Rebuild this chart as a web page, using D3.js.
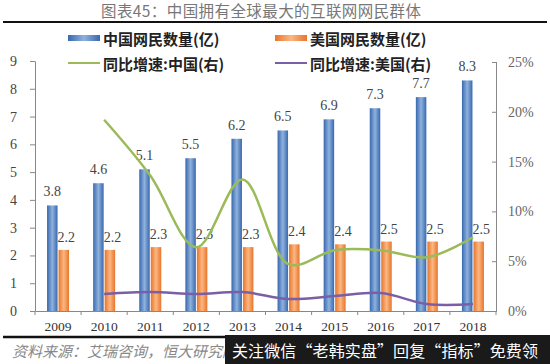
<!DOCTYPE html>
<html>
<head>
<meta charset="utf-8">
<script src="https://cdn.jsdelivr.net/npm/d3@7"></script>
<style>
  body { margin: 0; background: #fff; }
  svg { display: block; }
</style>
</head>
<body>
<div id="chart"></div>
<script>
// data
var years = ["2009","2010","2011","2012","2013","2014","2015","2016","2017","2018"];
var chinaUsers = [3.8, 4.6, 5.1, 5.5, 6.2, 6.5, 6.9, 7.3, 7.7, 8.3];
var usUsers = [2.2, 2.2, 2.3, 2.3, 2.3, 2.4, 2.4, 2.5, 2.5, 2.5];
var chinaGrowth = [null, 19.2, 13.6, 6.4, 13.2, 4.7, 6.1, 6.1, 5.4, 7.4];
var usGrowth = [null, 1.7, 1.9, 1.7, 1.9, 1.2, 1.5, 1.8, 0.7, 0.7];
var leftTicks = [0,1,2,3,4,5,6,7,8,9];
var rightTicks = [0,5,10,15,20,25];

var width = 550, height = 364;
var serif = "'Liberation Serif', 'DejaVu Serif', serif";
var cjk = "'Noto Sans CJK SC', sans-serif";

var svg = d3.select("#chart").append("svg")
  .attr("width", width).attr("height", height);

var defs = svg.append("defs");
function grad(id, edge, mid) {
  var g = defs.append("linearGradient").attr("id", id)
    .attr("x1", "0%").attr("x2", "100%").attr("y1", "0%").attr("y2", "0%");
  g.append("stop").attr("offset", "0%").attr("stop-color", edge);
  g.append("stop").attr("offset", "50%").attr("stop-color", mid);
  g.append("stop").attr("offset", "100%").attr("stop-color", edge);
}
grad("gBlue", "#3868b0", "#8fb2dd");
grad("gOrange", "#e8752a", "#fbb783");

// title
svg.append("text").attr("x", 261).attr("y", 17)
  .attr("text-anchor", "middle")
  .attr("textLength", 320).attr("lengthAdjust", "spacing")
  .style("font-family", cjk).style("font-size", "15.5px").style("fill", "#777")
  .text("图表45：中国拥有全球最大的互联网网民群体");
svg.append("line").attr("x1", 3).attr("x2", 547).attr("y1", 22).attr("y2", 22)
  .attr("stroke", "#111").attr("stroke-width", 2.2);

// scales
var x = d3.scaleBand().domain(years).range([35, 496]);
var yL = d3.scaleLinear().domain([0, 9]).range([311, 61]);
var yR = d3.scaleLinear().domain([0, 25]).range([311, 62]);

// axes
var xAxis = svg.append("g").attr("transform", "translate(0,311)")
  .call(d3.axisBottom(x).tickSize(0).tickPadding(10));
xAxis.selectAll("text").style("font-family", serif).style("font-size", "13.5px").style("fill", "#333");
xAxis.select(".domain").attr("stroke", "#888");
// category boundary ticks
svg.append("g").selectAll("line")
  .data(years.concat(["end"]))
  .enter().append("line")
  .attr("x1", (d, i) => x.range()[0] + i * x.step())
  .attr("x2", (d, i) => x.range()[0] + i * x.step())
  .attr("y1", 311).attr("y2", 315)
  .attr("stroke", "#888");

var left = svg.append("g").attr("transform", "translate(35,0)")
  .call(d3.axisLeft(yL).tickValues(leftTicks).tickSize(5).tickSizeOuter(0).tickPadding(13));
left.selectAll("text").style("font-family", serif).style("font-size", "14px").style("fill", "#444");
left.selectAll("line, .domain").attr("stroke", "#888");

var right = svg.append("g").attr("transform", "translate(496,0)")
  .call(d3.axisRight(yR).tickValues(rightTicks).tickFormat(d => d + "%").tickSize(0).tickPadding(12));
right.selectAll("text").style("font-family", serif).style("font-size", "14px").style("fill", "#666");
right.select(".domain").attr("stroke", "#888");
right.selectAll(".tick").append("line").attr("x1", -4).attr("x2", 1).attr("stroke", "#888");

// bars
var bw = 10.5;
var groups = svg.append("g").selectAll("g")
  .data(years).enter().append("g")
  .attr("transform", d => `translate(${x(d) + x.bandwidth() / 2},0)`);

groups.append("rect")
  .attr("x", -bw - 0.5).attr("width", bw)
  .attr("y", (d, i) => yL(chinaUsers[i]))
  .attr("height", (d, i) => yL(0) - yL(chinaUsers[i]))
  .attr("fill", "url(#gBlue)");
groups.append("rect")
  .attr("x", 0.5).attr("width", bw)
  .attr("y", (d, i) => yL(usUsers[i]))
  .attr("height", (d, i) => yL(0) - yL(usUsers[i]))
  .attr("fill", "url(#gOrange)");

groups.append("text")
  .attr("x", -bw / 2 - 0.5)
  .attr("y", (d, i) => yL(chinaUsers[i]) - 9)
  .attr("text-anchor", "middle")
  .style("font-family", serif).style("font-size", "14px").style("fill", "#444")
  .text((d, i) => chinaUsers[i].toFixed(1));
groups.append("text")
  .attr("x", bw / 2 + 3)
  .attr("y", (d, i) => yL(usUsers[i]) - 8)
  .attr("text-anchor", "middle")
  .style("font-family", serif).style("font-size", "14px").style("fill", "#444")
  .text((d, i) => usUsers[i].toFixed(1));

// growth lines
var line = d3.line()
  .defined(d => d.v != null)
  .x(d => x(d.year) + x.bandwidth() / 2)
  .y(d => yR(d.v))
  .curve(d3.curveCatmullRom.alpha(0.5));

svg.append("path")
  .datum(years.map((y, i) => ({year: y, v: chinaGrowth[i]})))
  .attr("d", line).attr("fill", "none")
  .attr("stroke", "#9bbb59").attr("stroke-width", 2.5);
svg.append("path")
  .datum(years.map((y, i) => ({year: y, v: usGrowth[i]})))
  .attr("d", line).attr("fill", "none")
  .attr("stroke", "#7b5fa6").attr("stroke-width", 2.5);

// legend
var legFont = 15;
function legText(xx, yy, t) {
  svg.append("text").attr("x", xx).attr("y", yy)
    .style("font-family", cjk).style("font-weight", "bold")
    .style("font-size", legFont + "px").style("fill", "#222")
    .attr("dominant-baseline", "central")
    .text(t);
}
svg.append("rect").attr("x", 68).attr("y", 35).attr("width", 32).attr("height", 6).attr("fill", "url(#gBlue)");
legText(103, 38, "中国网民数量(亿)");
svg.append("rect").attr("x", 275).attr("y", 35).attr("width", 32).attr("height", 6).attr("fill", "url(#gOrange)");
legText(310, 38, "美国网民数量(亿)");
svg.append("line").attr("x1", 68).attr("x2", 100).attr("y1", 63).attr("y2", 63)
  .attr("stroke", "#9bbb59").attr("stroke-width", 2);
legText(103, 63, "同比增速:中国(右)");
svg.append("line").attr("x1", 275).attr("x2", 307).attr("y1", 63).attr("y2", 63)
  .attr("stroke", "#7b5fa6").attr("stroke-width", 2);
legText(310, 63, "同比增速:美国(右)");

// footer
svg.append("line").attr("x1", 3).attr("x2", 547).attr("y1", 337).attr("y2", 337)
  .attr("stroke", "#111").attr("stroke-width", 2.5);
svg.append("text").attr("x", 12).attr("y", 357)
  .style("font-family", cjk).style("font-style", "italic")
  .style("font-size", "15px").style("fill", "#888")
  .text("资料来源：艾瑞咨询，恒大研究院");
svg.append("rect").attr("x", 225).attr("y", 335).attr("width", 325).attr("height", 29).attr("fill", "#1a1a1a");
svg.append("text").attr("x", 232).attr("y", 357)
  .attr("textLength", 306).attr("lengthAdjust", "spacing")
  .style("font-family", cjk).style("font-size", "16px").style("fill", "#fff")
  .text("关注微信“老韩实盘”回复“指标”免费领");
</script>
</body>
</html>
